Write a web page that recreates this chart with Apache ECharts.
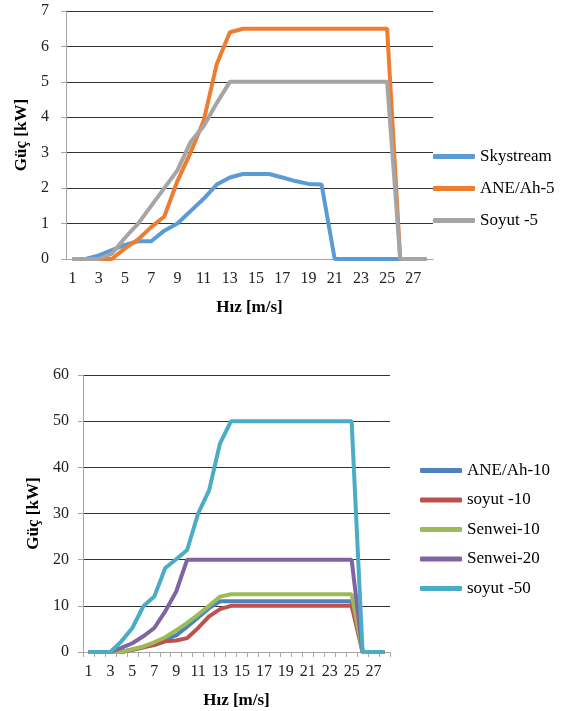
<!DOCTYPE html>
<html>
<head>
<meta charset="utf-8">
<script src="https://cdn.jsdelivr.net/npm/echarts@6/dist/echarts.min.js"></script>
<style>
  html, body { margin: 0; padding: 0; background: #fff; }
  #chart { width: 572px; height: 711px; }
</style>
</head>
<body>
<div id="chart"></div>
<script>
// wind speed categories (m/s)
const speeds = ["1","2","3","4","5","6","7","8","9","10","11","12","13","14","15","16","17","18","19","20","21","22","23","24","25","26","27","28"];

// top chart (kW)
const skystream = [0,0,0.1,0.25,0.4,0.5,0.5,0.8,1.0,1.35,1.7,2.1,2.3,2.4,2.4,2.4,2.3,2.2,2.12,2.1,0,0,0,0,0,0,0,0];
const aneAh5 = [0,0,0,0,0.3,0.55,0.9,1.2,2.2,3.0,3.9,5.5,6.4,6.5,6.5,6.5,6.5,6.5,6.5,6.5,6.5,6.5,6.5,6.5,6.5,0,0,0];
const soyut5 = [0,0,0,0.15,0.6,1.0,1.5,2.0,2.5,3.3,3.75,4.4,5,5,5,5,5,5,5,5,5,5,5,5,5,0,0,0];

// bottom chart (kW)
const aneAh10 = [0,0,0,0,0.5,1,2,2.8,3.6,5.5,7.5,9.5,11,11,11,11,11,11,11,11,11,11,11,11,11,0,0,0];
const soyut10 = [0,0,0,0,0.5,1,1.5,2.3,2.5,3.0,5.2,7.7,9.3,10,10,10,10,10,10,10,10,10,10,10,10,0,0,0];
const senwei10 = [0,0,0,0,0.6,1.2,2.1,3.2,4.7,6.3,8.1,10,12,12.5,12.5,12.5,12.5,12.5,12.5,12.5,12.5,12.5,12.5,12.5,12.5,0,0,0];
const senwei20 = [0,0,0,0.9,1.9,3.4,5.2,8.8,13.1,20,20,20,20,20,20,20,20,20,20,20,20,20,20,20,20,0,0,0];
const soyut50 = [0,0,0,2.3,5.2,9.9,12,18.2,20.1,22.1,30,35,45.2,50,50,50,50,50,50,50,50,50,50,50,50,0,0,0];

const font = "'Liberation Serif', 'Times New Roman', serif";

function xAxisFor(gridIndex, withTicks) {
  return {
    type: "category",
    gridIndex: gridIndex,
    data: speeds,
    boundaryGap: true,
    name: "Hız [m/s]",
    nameLocation: "middle",
    nameGap: 40,
    nameTextStyle: { fontFamily: font, fontSize: 17, fontWeight: "bold", color: "#000" },
    axisLine: { lineStyle: { color: "#a6a6a6", width: 1 } },
    axisTick: { show: withTicks, interval: 0, length: 5, lineStyle: { color: "#a6a6a6" } },
    axisLabel: { interval: 1, margin: 12, fontFamily: font, fontSize: 16, color: "#222" },
    splitLine: { show: false }
  };
}

function yAxisFor(gridIndex, max, interval, gap, margin) {
  return {
    type: "value",
    gridIndex: gridIndex,
    min: 0,
    max: max,
    interval: interval,
    name: "Güç [kW]",
    nameLocation: "middle",
    nameGap: gap,
    nameTextStyle: { fontFamily: font, fontSize: 17, fontWeight: "bold", color: "#000" },
    axisLine: { show: true, lineStyle: { color: "#a6a6a6", width: 1 } },
    axisTick: { show: true, length: 5, lineStyle: { color: "#a6a6a6" } },
    axisLabel: { margin: margin, fontFamily: font, fontSize: 16, color: "#222" },
    splitLine: { show: true, lineStyle: { color: "#333", width: 1 } }
  };
}

function line(name, data, color, axisIdx) {
  return {
    name: name,
    type: "line",
    xAxisIndex: axisIdx,
    yAxisIndex: axisIdx,
    data: data,
    showSymbol: false,
    symbol: "none",
    lineStyle: { color: color, width: 4 },
    itemStyle: { color: color },
    emphasis: { disabled: true }
  };
}

const chart = echarts.init(document.getElementById("chart"));
const option = {
  animation: false,
  backgroundColor: "#fff",
  grid: [
    { left: 66, top: 11, width: 367, height: 248 },
    { left: 83, top: 375, width: 307, height: 277 }
  ],
  xAxis: [xAxisFor(0, false), xAxisFor(1, true)],
  yAxis: [yAxisFor(0, 7, 1, 33, 17), yAxisFor(1, 60, 10, 40, 14)],
  legend: [
    {
      orient: "vertical",
      left: 428,
      top: 143,
      icon: "roundRect",
      itemWidth: 42,
      itemHeight: 5,
      itemGap: 15,
      textStyle: { fontFamily: font, fontSize: 17, color: "#000" },
      data: ["Skystream", "ANE/Ah-5", "Soyut -5"]
    },
    {
      orient: "vertical",
      left: 415,
      top: 457,
      icon: "roundRect",
      itemWidth: 42,
      itemHeight: 5,
      itemGap: 12.5,
      textStyle: { fontFamily: font, fontSize: 17, color: "#000" },
      data: ["ANE/Ah-10", "soyut -10", "Senwei-10", "Senwei-20", "soyut -50"]
    }
  ],
  series: [
    line("Skystream", skystream, "#5b9bd5", 0),
    line("ANE/Ah-5", aneAh5, "#ed7d31", 0),
    line("Soyut -5", soyut5, "#a5a5a5", 0),
    line("ANE/Ah-10", aneAh10, "#4f81bd", 1),
    line("soyut -10", soyut10, "#c0504d", 1),
    line("Senwei-10", senwei10, "#9bbb59", 1),
    line("Senwei-20", senwei20, "#8064a2", 1),
    line("soyut -50", soyut50, "#4bacc6", 1)
  ]
};
option && chart.setOption(option);
</script>
</body>
</html>
